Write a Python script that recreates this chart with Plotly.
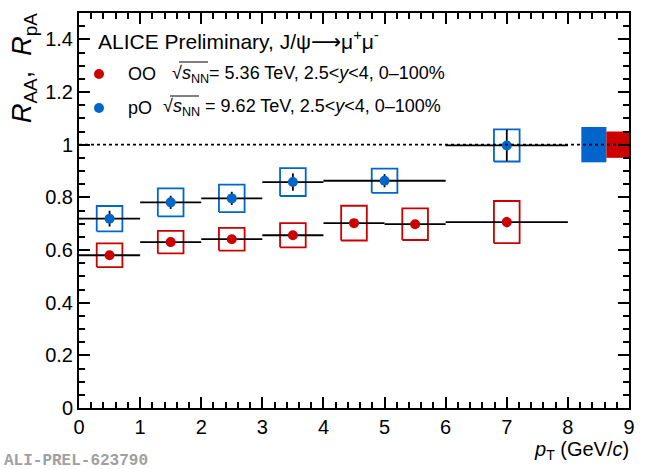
import plotly.graph_objects as go

# ---------------- data ----------------
oo_x = [0.5, 1.5, 2.5, 3.5, 4.5, 5.5, 7.0]
oo_binw = [0.5, 0.5, 0.5, 0.5, 0.5, 0.5, 1.0]
oo_y = [0.58, 0.63, 0.641, 0.656, 0.702, 0.698, 0.706]
oo_stat = [0.012, 0.012, 0.012, 0.013, 0.015, 0.015, 0.02]
oo_syst = [0.045, 0.043, 0.043, 0.046, 0.066, 0.06, 0.08]
oo_glob = 0.05

po_x = [0.5, 1.5, 2.5, 3.5, 5.0, 7.0]
po_binw = [0.5, 0.5, 0.5, 0.5, 1.0, 1.0]
po_y = [0.719, 0.781, 0.796, 0.858, 0.863, 0.997]
po_stat = [0.03, 0.025, 0.025, 0.033, 0.025, 0.06]
po_syst = [0.048, 0.053, 0.052, 0.053, 0.046, 0.061]
po_glob = 0.067

syst_halfwidth = 0.21
glob_po_x = [8.22, 8.63]
glob_oo_x = [8.63, 9.0]

x_ticks = [0, 1, 2, 3, 4, 5, 6, 7, 8, 9]
y_ticks = [0, 0.2, 0.4, 0.6, 0.8, 1.0, 1.2, 1.4]
y_ticklabels = ["0", "0.2", "0.4", "0.6", "0.8", "1", "1.2", "1.4"]

RED = "#cc0000"
BLUE = "#0066cc"
FONT = "Liberation Sans"


def rects(xs, ys, errs, hw):
    rx, ry = [], []
    for x, y, e in zip(xs, ys, errs):
        rx += [x - hw, x + hw, x + hw, x - hw, x - hw, None]
        ry += [y - e, y - e, y + e, y + e, y - e, None]
    return rx, ry


fig = go.Figure()

# global uncertainty boxes
for (x0, x1), g, c in [(glob_po_x, po_glob, BLUE), (glob_oo_x, oo_glob, RED)]:
    fig.add_trace(go.Scatter(
        x=[x0, x1, x1, x0, x0], y=[1 - g, 1 - g, 1 + g, 1 + g, 1 - g],
        mode="lines", fill="toself", fillcolor=c, line=dict(width=0, color=c),
        hoverinfo="skip", showlegend=False))

# systematic boxes
for xs, ys, es, c in [(oo_x, oo_y, oo_syst, RED), (po_x, po_y, po_syst, BLUE)]:
    rx, ry = rects(xs, ys, es, syst_halfwidth)
    fig.add_trace(go.Scatter(x=rx, y=ry, mode="lines",
                             line=dict(color=c, width=1.8),
                             hoverinfo="skip", showlegend=False))

# points with bin widths and stat errors
for xs, ys, bw, st, c in [(oo_x, oo_y, oo_binw, oo_stat, RED),
                          (po_x, po_y, po_binw, po_stat, BLUE)]:
    fig.add_trace(go.Scatter(
        x=xs, y=ys, mode="markers",
        marker=dict(color=c, size=10, line=dict(width=0)),
        error_x=dict(type="data", array=bw, color="black", thickness=1.8, width=0),
        error_y=dict(type="data", array=st, color="black", thickness=1.8, width=0),
        showlegend=False))

# unity line
fig.add_shape(type="line", xref="x", yref="y", x0=0, x1=9, y0=1, y1=1,
              line=dict(color="black", width=1.6, dash="dot"), layer="above")

axis_common = dict(
    showline=True, linewidth=2, linecolor="black", mirror="allticks",
    ticks="inside", ticklen=11, tickwidth=1.5, tickcolor="black",
    showgrid=False, zeroline=False,
    tickfont=dict(family=FONT, size=20, color="black"),
)

fig.update_xaxes(range=[0, 9], tickvals=x_ticks,
                 minor=dict(ticks="inside", ticklen=6, dtick=0.2, tickwidth=1.5,
                            tickcolor="black", showgrid=False),
                 **axis_common)
fig.update_yaxes(range=[0, 1.5], tickvals=y_ticks, ticktext=y_ticklabels,
                 minor=dict(ticks="inside", ticklen=6, dtick=0.05, tickwidth=1.5,
                            tickcolor="black", showgrid=False),
                 **axis_common)

W, H = 650, 469
L, R, T, B = 79, 21, 13, 61
pw, ph = W - L - R, H - T - B


def px(x):
    return (x - L) / pw


def py(y):
    return (H - B - y) / ph


ARROW = '<span style="font-family:DejaVu Sans">⟶</span>'
annotations = [
    dict(text="ALICE Preliminary, J/ψ" + ARROW + "μ<sup>+</sup>μ<sup>-</sup>",
         x=96, y=40, size=21),
    dict(text="OO", x=126, y=74, size=18),
    dict(text="√<i>s</i><sub>NN</sub>= 5.36 TeV, 2.5&lt;<i>y</i>&lt;4, 0–100%",
         x=170, y=74, size=18),
    dict(text="pO", x=126, y=108, size=18),
    dict(text="√<i>s</i><sub>NN</sub> = 9.62 TeV, 2.5&lt;<i>y</i>&lt;4, 0–100%",
         x=161, y=108, size=18),
]

anns = []
for a in annotations:
    anns.append(dict(text=a["text"], xref="paper", yref="paper",
                     x=px(a["x"]), y=py(a["y"]), xanchor="left", yanchor="middle",
                     showarrow=False,
                     font=dict(family=FONT, size=a["size"], color="black")))

anns.append(dict(text="<i>R</i><sub>AA</sub>,  <i>R</i><sub>pA</sub>",
                 xref="paper", yref="paper", x=px(24), y=py(11),
                 xanchor="center", yanchor="top", textangle=-90, showarrow=False,
                 font=dict(family=FONT, size=27, color="black")))
anns.append(dict(text="<i>p</i><sub>T</sub> (GeV/<i>c</i>)",
                 xref="paper", yref="paper", x=px(631), y=py(451),
                 xanchor="right", yanchor="middle", showarrow=False,
                 font=dict(family=FONT, size=20, color="black")))
anns.append(dict(text="<b>ALI-PREL-623790</b>",
                 xref="paper", yref="paper", x=px(2), y=py(461),
                 xanchor="left", yanchor="middle", showarrow=False,
                 font=dict(family="Liberation Mono", size=16, color="#a0a0a0")))

# legend markers
for yy, c in [(74, RED), (108, BLUE)]:
    fig.add_shape(type="circle", xref="paper", yref="paper",
                  xsizemode="pixel", ysizemode="pixel",
                  xanchor=px(99), yanchor=py(yy),
                  x0=-5, x1=5, y0=-5, y1=5,
                  fillcolor=c, line=dict(width=0))

# square-root overlines
for x0, x1, yy in [(179, 208, 62), (170, 199, 96)]:
    fig.add_shape(type="line", xref="paper", yref="paper",
                  x0=px(x0), x1=px(x1), y0=py(yy), y1=py(yy),
                  line=dict(color="black", width=1))

fig.update_layout(
    width=W, height=H, margin=dict(l=L, r=R, t=T, b=B),
    plot_bgcolor="white", paper_bgcolor="white",
    showlegend=False, annotations=anns,
    font=dict(family=FONT),
)

fig.write_html("out.html",
               config={"displayModeBar": False},
               post_script="document.body.style.margin='0';"
                           "document.body.style.overflow='hidden';")
